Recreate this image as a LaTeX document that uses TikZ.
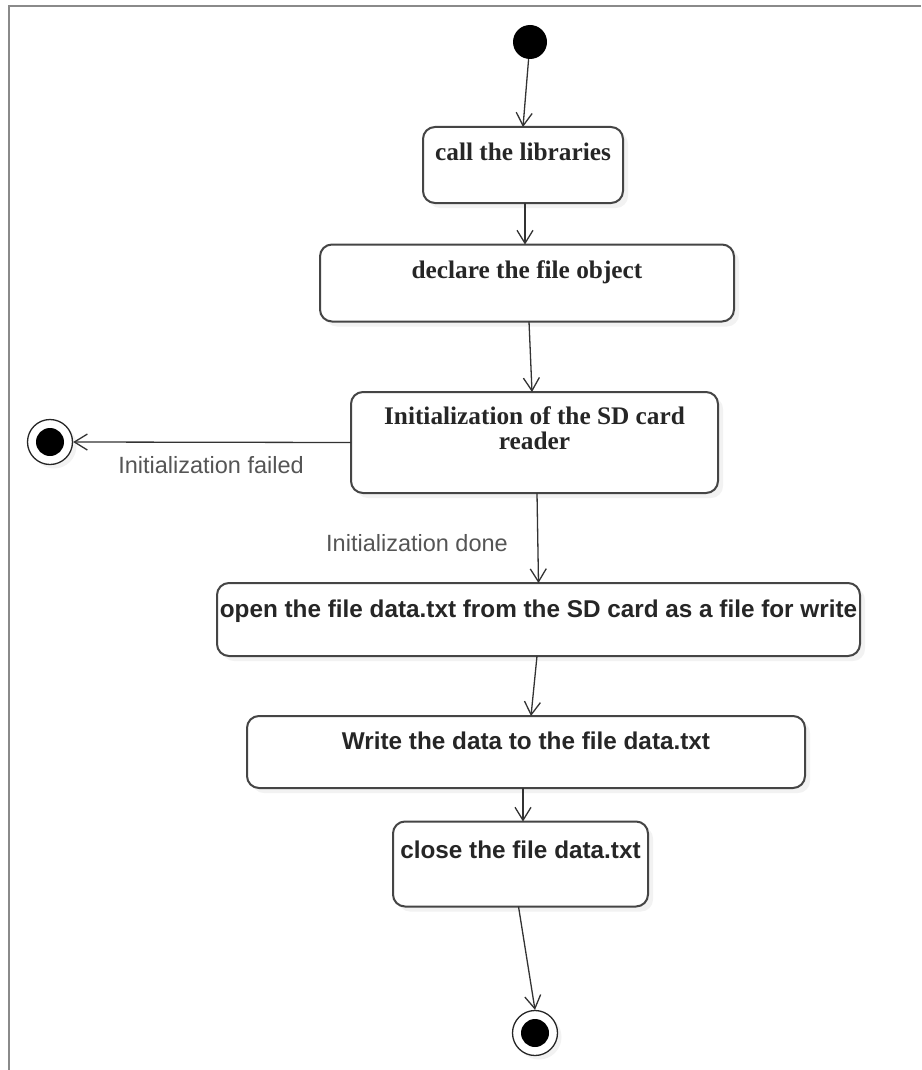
\documentclass[tikz,border=0pt]{standalone}
\usepackage{fontspec}
\setmainfont{Liberation Serif}
\newfontfamily\actsans{Liberation Sans}
\usetikzlibrary{arrows.meta,shadows}
\definecolor{boxline}{HTML}{454545}
\definecolor{flowline}{HTML}{333333}
\definecolor{guardtext}{HTML}{555555}
\definecolor{framegray}{HTML}{8A8A8A}
\begin{document}
\begin{tikzpicture}[x=1pt,y=-1pt,
  activity/.style={draw=boxline, line width=2pt, rounded corners=12pt, fill=white,
    drop shadow={opacity=0.10, shadow xshift=5pt, shadow yshift=-5pt},
    inner sep=0pt, outer sep=0pt},
  serifact/.style={anchor=base, font=\fontsize{25.3}{25.3}\selectfont\bfseries, text=black!85, inner sep=0pt},
  sansact/.style={anchor=base, font=\actsans\fontsize{24.3}{24.3}\selectfont\bfseries, text=black!85, inner sep=0pt},
  guard/.style={anchor=base, font=\actsans\fontsize{23.5}{23.5}\selectfont, text=guardtext, inner sep=0pt},
  flow/.style={draw=flowline, line width=1.3pt,
    -{Straight Barb[length=13pt,width=16pt,line width=1.3pt]}},
  startdot/.style={circle, fill=black, minimum size=34pt, inner sep=0pt},
  endring/.style={circle, draw=black!85, line width=1.3pt, fill=white, minimum size=45pt, inner sep=0pt,
    drop shadow={opacity=0.10, shadow xshift=4pt, shadow yshift=-4pt}},
  enddot/.style={circle, fill=black, minimum size=28pt, inner sep=0pt}
]
% page area
\useasboundingbox (0,0) rectangle (921,1070);
\fill[white] (0,0) rectangle (921,1070);
% outer frame (top and left edges)
\draw[framegray, line width=2pt] (9,1070) -- (9,6) -- (921,6);

% initial node
\node[startdot] (start) at (530,42) {};

% activities
\node[activity, minimum width=200pt, minimum height=76pt] (libs) at (523,165) {};
\node[serifact] (libstxt) at (523,160) {call the libraries};

\node[activity, minimum width=414pt, minimum height=77pt] (decl) at (527,283) {};
\node[serifact] (decltxt) at (527,278) {declare the file object};

\node[activity, minimum width=367pt, minimum height=101pt] (init) at (534.5,442.5) {};
\node[serifact] (inittxt1) at (534.5,424) {Initialization of the SD card};
\node[serifact] (inittxt2) at (534.5,449) {reader};

\node[activity, minimum width=643pt, minimum height=73pt] (open) at (538.5,619.5) {};
\node[sansact] (opentxt) at (538.5,617) {open the file data.txt from the SD card as a file for write};

\node[activity, minimum width=558pt, minimum height=72pt] (write) at (526,752) {};
\node[sansact] (writetxt) at (526,749) {Write the data to the file data.txt};

\node[activity, minimum width=255pt, minimum height=85pt] (close) at (520.5,864) {};
\node[sansact] (closetxt) at (520.5,858) {close the file data.txt};

% final nodes
\node[endring] (failend) at (50,442) {};
\node[enddot] (failenddot) at (50,442) {};
\node[endring] (finalend) at (535,1033) {};
\node[enddot] (finalenddot) at (535,1033) {};

% control flows
\draw[flow] (start) -- (libs.north);
\draw[flow] ([xshift=2pt]libs.south) -- ([xshift=-2pt]decl.north);
\draw[flow] ([xshift=2pt]decl.south) -- ([xshift=-2.5pt]init.north);
\draw[flow] ([xshift=2.5pt]init.south) -- (open.north);
\draw[flow] ([xshift=-1.5pt]open.south) -- ([xshift=5pt]write.north);
\draw[flow] ([xshift=-3pt]write.south) -- ([xshift=2.5pt]close.north);
\draw[flow] ([xshift=-2pt]close.south) -- (finalend.north);
\draw[flow] (init.west) -- (failend.east);

% guard labels
\node[guard] (failedlbl) at (211,473) {Initialization failed};
\node[guard] (donelbl) at (417,551) {Initialization done};
\end{tikzpicture}
\end{document}
